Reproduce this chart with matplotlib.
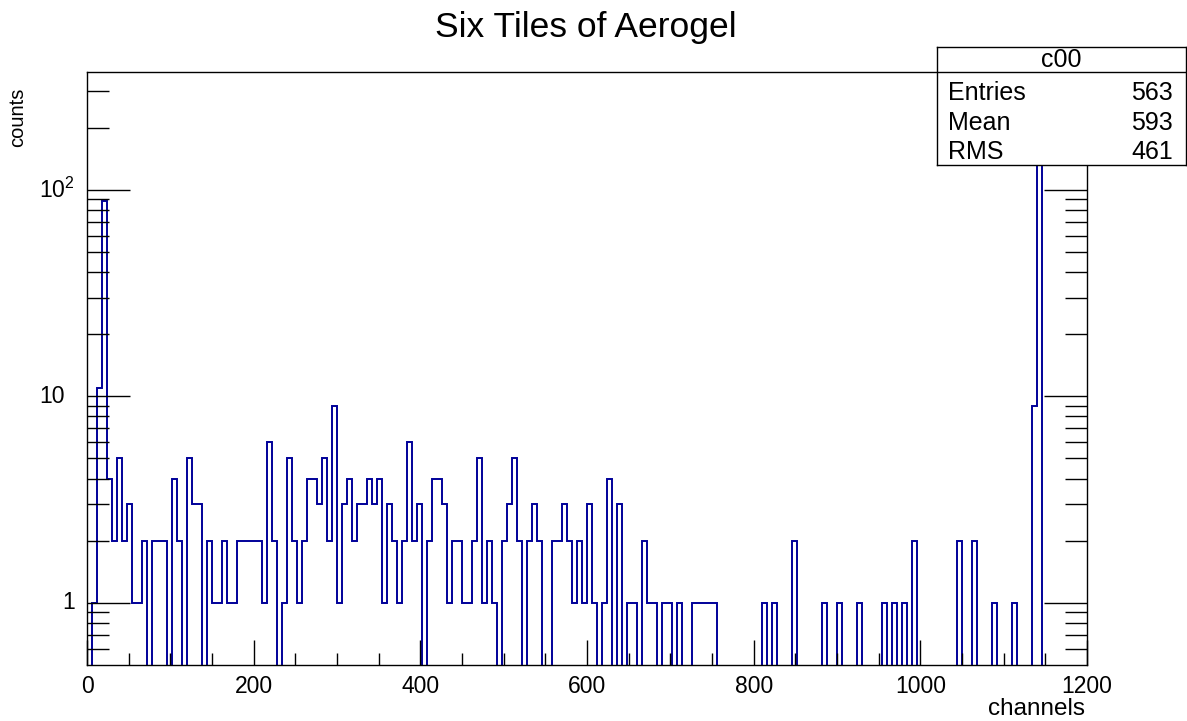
import numpy as np
import matplotlib
matplotlib.use('Agg')
import matplotlib.pyplot as plt
from matplotlib.ticker import FixedLocator, NullFormatter
from matplotlib.transforms import blended_transform_factory

plt.rcParams['font.family'] = ['Liberation Sans', 'DejaVu Sans']
plt.rcParams['mathtext.fontset'] = 'custom'
plt.rcParams['mathtext.rm'] = 'Liberation Sans'
plt.rcParams['mathtext.it'] = 'Liberation Sans:italic'

# 200 bins of 6 channels, 0..1200
BIN_LO = 0
BIN_HI = 1200
counts = [
    0, 1, 11, 88, 4, 2, 5, 2, 3, 1, 1, 2, 0, 2, 2, 2, 0, 4, 2, 0,
    5, 3, 3, 0, 2, 1, 1, 2, 1, 1, 2, 2, 2, 2, 2, 1, 6, 2, 0, 1,
    5, 2, 1, 2, 4, 4, 3, 5, 2, 9, 1, 3, 4, 2, 3, 3, 4, 3, 4, 1,
    3, 2, 1, 2, 6, 2, 3, 0, 2, 4, 4, 3, 1, 2, 2, 1, 1, 2, 5, 1,
    2, 1, 0, 2, 3, 5, 2, 0, 2, 3, 2, 0, 0, 2, 2, 3, 2, 1, 2, 1,
    3, 1, 0, 1, 4, 0, 3, 0, 1, 1, 0, 2, 1, 1, 0, 1, 1, 0, 1, 0,
    0, 1, 1, 1, 1, 1, 0, 0, 0, 0, 0, 0, 0, 0, 0, 1, 0, 1, 0, 0,
    0, 2, 0, 0, 0, 0, 0, 1, 0, 0, 1, 0, 0, 0, 1, 0, 0, 0, 0, 1,
    0, 1, 0, 1, 0, 2, 0, 0, 0, 0, 0, 0, 0, 0, 2, 0, 0, 2, 0, 0,
    0, 1, 0, 0, 0, 1, 0, 0, 0, 9, 191, 0, 0, 0, 0, 0, 0, 0, 0, 0,
]
x_ticks = [0, 200, 400, 600, 800, 1000, 1200]
y_ticks = [1, 10, 100]
y_tick_labels = ['1', '10', r'10$^{2}$']
stats_labels = ['Entries', 'Mean', 'RMS']
stats_values = ['563', '593', '461']
hist_name = 'c00'

counts = np.array(counts, dtype=float)
edges = np.linspace(BIN_LO, BIN_HI, len(counts) + 1)
y_min, y_max = 0.5, 372
W, H = 1187, 721

fig = plt.figure(figsize=(W / 100, H / 100), dpi=100)
ax = fig.add_axes([87 / W, 1 - 665 / H, 1000 / W, 593 / H])

# empty bins drawn below the frame, like ROOT does
ax.stairs(np.where(counts > 0, counts, 1e-3), edges, color='#000099', lw=1.4)

ax.set_yscale('log')
ax.set_xlim(BIN_LO, BIN_HI)
ax.set_ylim(y_min, y_max)

ax.xaxis.set_major_locator(FixedLocator(x_ticks))
ax.xaxis.set_minor_locator(FixedLocator(np.arange(0, 1201, 50)))
ax.set_xticklabels([str(v) for v in x_ticks])
ax.yaxis.set_major_locator(FixedLocator(y_ticks))
ax.yaxis.set_major_formatter(NullFormatter())
minor_y = [0.6, 0.7, 0.8, 0.9] + list(range(2, 10)) + list(range(20, 100, 10)) + [200, 300]
ax.yaxis.set_minor_locator(FixedLocator(minor_y))
ax.yaxis.set_minor_formatter(NullFormatter())

ax.tick_params(axis='x', which='major', direction='in', length=18, width=1,
               labelsize=16.5, pad=7, top=False)
ax.tick_params(axis='x', which='minor', direction='in', length=9, width=1, top=False)
ax.tick_params(axis='y', which='major', direction='in', length=31, width=1, right=True)
ax.tick_params(axis='y', which='minor', direction='in', length=16, width=1, right=True)
for s in ax.spines.values():
    s.set_linewidth(1)

# y labels placed like ROOT does for a log axis
tr = blended_transform_factory(fig.transFigure, ax.transData)
for v, lab in zip(y_ticks, y_tick_labels):
    if lab == '1':
        fig.text(75 / W, v, lab, transform=tr, fontsize=16.5, ha='right', va='center')
    else:
        fig.text(39 / W, v, lab, transform=tr, fontsize=16.5, ha='left', va='center')

fig.text(586 / W, 1 - 27 / H, 'Six Tiles of Aerogel', fontsize=25.5,
         ha='center', va='center')
fig.text(18 / W, 1 - 88 / H, 'counts', rotation=90, fontsize=14.5,
         ha='center', va='top')
fig.text(1085 / W, 1 - 709 / H, 'channels', fontsize=17.5,
         ha='right', va='center')

# stats box
bx0, bx1 = 937, 1186
by0, by1 = 47, 165
box = fig.add_axes([bx0 / W, 1 - by1 / H, (bx1 - bx0) / W, (by1 - by0) / H])
box.set_xlim(bx0, bx1)
box.set_ylim(by1, by0)
box.set_xticks([])
box.set_yticks([])
for s in box.spines.values():
    s.set_linewidth(1)
box.axhline(72, color='black', lw=1)
box.text((bx0 + bx1) / 2, 60, hist_name, fontsize=18, ha='center', va='center')
for i, (lab, val) in enumerate(zip(stats_labels, stats_values)):
    yy = 93 + i * 29.5
    box.text(948, yy, lab, fontsize=18, ha='left', va='center')
    box.text(1173, yy, val, fontsize=18, ha='right', va='center')

fig.savefig('out.png', dpi=100)
